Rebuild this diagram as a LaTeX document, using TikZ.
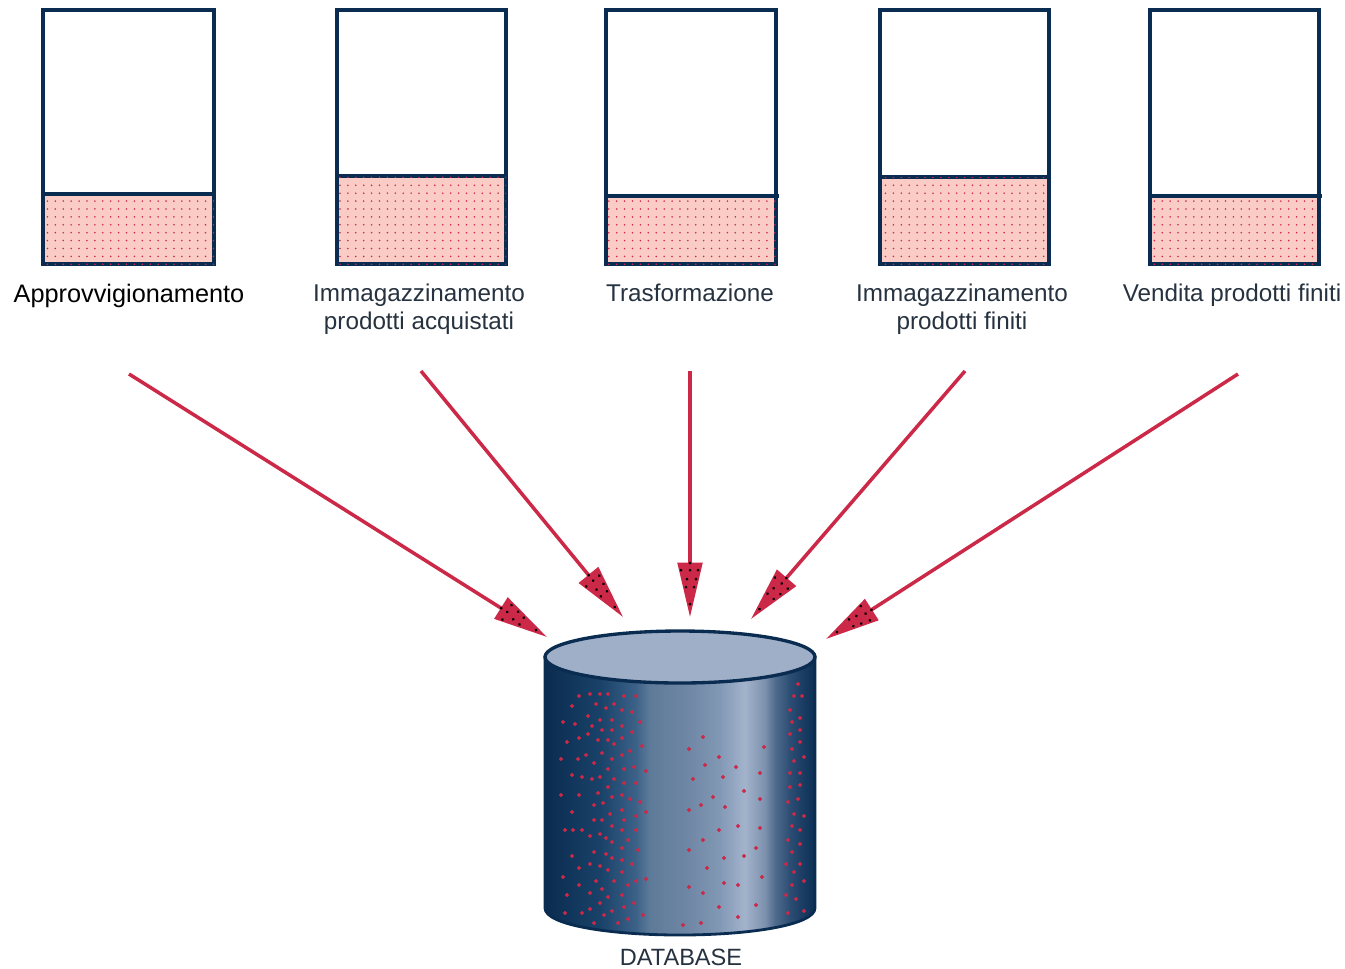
\documentclass[tikz,border=0pt]{standalone}
\usepackage{fontspec}
\setmainfont{Liberation Sans}
\usetikzlibrary{arrows.meta,patterns.meta}
\definecolor{binblue}{HTML}{0A2C50}
\definecolor{binpink}{HTML}{FBCBC5}
\definecolor{flowred}{HTML}{CC2848}
\definecolor{dbtop}{HTML}{9FAFC8}
\definecolor{labelink}{HTML}{26323F}
\pgfdeclarehorizontalshading{dbbody}{100bp}{
  rgb(0bp)=(0.04,0.17,0.31);
  rgb(25bp)=(0.04,0.17,0.31);
  rgb(35.2bp)=(0.10,0.26,0.41);
  rgb(41.7bp)=(0.23,0.38,0.53);
  rgb(44.4bp)=(0.37,0.48,0.60);
  rgb(51.9bp)=(0.44,0.53,0.65);
  rgb(57.4bp)=(0.51,0.60,0.71);
  rgb(62bp)=(0.64,0.70,0.80);
  rgb(65.7bp)=(0.49,0.57,0.68);
  rgb(67.6bp)=(0.31,0.42,0.55);
  rgb(70.4bp)=(0.17,0.30,0.45);
  rgb(75bp)=(0.04,0.18,0.33);
  rgb(100bp)=(0.04,0.18,0.33)}
\tikzset{
  binbox/.style={draw=binblue,line width=2pt,fill=white},
  binstock/.style={draw=binblue,line width=2pt,fill=binpink,
    postaction={pattern={Dots[distance=4.5pt,radius=0.5pt]},pattern color=flowred}},
  binlabel/.style={inner sep=0pt,text=labelink,align=center,
    font=\fontsize{13.8}{15.9}\selectfont},
  flow/.style={draw=flowred,line width=2pt,
    -{Triangle[length=31pt,width=14pt,fill=flowred]}},
  headdots/.pic={
    \fill[black] (-13,0) circle (1.5) (-30,-4) circle (1.5) (-30,4) circle (1.5)
      (-38,-6) circle (1.5) (-38,3) circle (1.5) (-47,-8) circle (1.5)
      (-47,0) circle (1.5) (-47,9) circle (1.5) (-54,0) circle (1.5);
  }
}
\begin{document}
\begin{tikzpicture}[x=0.02cm,y=-0.02cm]
\useasboundingbox (0,0) rectangle (1345,968);
\draw[binbox] (43,10) rectangle (214,194);
\draw[binstock] (43,194) rectangle (214,264);
\draw[binbox] (337,10) rectangle (506,176);
\draw[binstock] (337,176) rectangle (506,264);
\draw[binbox] (606,10) rectangle (776,196);
\draw[binstock] (606,196) rectangle (776,264);
\draw[binblue,line width=2pt] (776,196) -- (779,196);
\draw[binbox] (880,10) rectangle (1049,177);
\draw[binstock] (880,177) rectangle (1049,264);
\draw[binbox] (1150,10) rectangle (1319,196);
\draw[binstock] (1150,196) rectangle (1319,264);
\draw[binblue,line width=2pt] (1319,196) -- (1322,196);
\node[inner sep=0pt,text=black,font=\fontsize{14.4}{16}\selectfont] (appr) at (129,296) {Approvvigionamento};
\node[binlabel] (acqu) at (419,309) {Immagazzinamento\\prodotti acquistati};
\node[binlabel] (tras) at (690,293) {Trasformazione};
\node[binlabel] (fini) at (962,309) {Immagazzinamento\\prodotti finiti};
\node[binlabel] (vend) at (1232,295) {Vendita prodotti finiti};
\coordinate (apprtail) at (129,374);
\coordinate (acqutail) at (421,371);
\coordinate (trastail) at (690,371);
\coordinate (finitail) at (965,371);
\coordinate (vendtail) at (1238,374);
\coordinate (apprtip) at (547,637);
\coordinate (acqutip) at (623,617);
\coordinate (trastip) at (690,617);
\coordinate (finitip) at (751,619);
\coordinate (vendtip) at (826,639);
\draw[flow] (apprtail) -- (apprtip);
\draw[flow] (acqutail) -- (acqutip);
\draw[flow] (trastail) -- (trastip);
\draw[flow] (finitail) -- (finitip);
\draw[flow] (vendtail) -- (vendtip);
\pic[rotate=-32.2] at (apprtip) {headdots};
\pic[rotate=-50.6] at (acqutip) {headdots};
\pic[rotate=-90] at (trastip) {headdots};
\pic[rotate=-130.8] at (finitip) {headdots};
\pic[rotate=-147.3] at (vendtip) {headdots};
\draw[draw=binblue,line width=1.6pt,shading=dbbody] (545,657) -- (545,908) .. controls (545,925) and (610,935) .. (680,935) .. controls (750,935) and (815,925) .. (815,908) -- (815,657) -- cycle;
\draw[draw=binblue,line width=1.9pt,fill=dbtop] (680,657) ellipse (135 and 26);
\draw[flowred] plot[only marks,mark=*,mark size=0.9pt,mark options={fill=flowred,draw=none}] coordinates {
(579,696) (590,694) (600,694) (608,694) (624,696) (636,696) (572,706) (596,704) (614,704) (606,708)
(622,710) (632,712) (588,716) (600,720) (612,720) (563,722) (575,724) (592,726) (622,726) (640,722)
(602,730) (612,730) (632,732) (588,734) (579,738) (598,740) (608,740) (622,738) (567,742) (614,744)
(642,746) (630,751) (602,753) (586,755) (622,755) (561,759) (578,759) (612,759) (594,763) (608,769)
(624,769) (634,767) (646,771) (572,775) (582,777) (600,777) (592,779) (614,779) (624,783) (636,783)
(608,787) (598,793) (561,795) (579,795) (612,797) (622,795) (630,799) (640,802) (603,803) (594,805)
(572,812) (622,810) (646,812) (610,814) (594,820) (602,820) (624,820) (636,816) (612,826)
(703,737) (689,749) (764,747) (719,757) (705,765) (736,767) (760,773) (693,779) (723,777) (744,791)
(713,797) (760,799) (701,805) (725,807) (689,810) (738,826) (760,828)
(798,684) (794,696) (802,696) (790,710) (800,718) (792,722) (800,730) (790,734) (800,742) (792,749)
(804,757) (794,761) (800,773) (790,773) (800,785) (790,787) (798,799) (788,802) (794,814) (804,816)
(792,826) (800,830)
(565,830) (573,830) (582,830) (590,836) (600,834) (606,838) (622,830) (636,830) (628,840) (612,842)
(594,852) (606,854) (622,848) (638,850) (572,856) (612,858) (622,860) (590,864) (632,864) (600,866)
(579,868) (608,870) (622,872) (563,877) (596,881) (614,881) (628,885) (636,881) (646,879) (579,885)
(602,889) (590,893) (622,895) (608,897) (567,895) (600,903) (634,903) (590,909) (624,907) (612,911)
(565,913) (582,913) (604,915) (643,915) (628,919) (594,923) (618,923)
(719,830) (703,840) (689,850) (756,848) (744,856) (724,858) (707,868) (762,877) (724,883) (738,885)
(689,887) (703,893) (719,907) (756,905) (738,917) (701,923) (683,925)
(788,840) (800,844) (792,852) (800,864) (786,864) (794,872) (804,881) (792,885) (786,895) (796,899)
(804,911) (788,913)};
\node[inner sep=0pt,anchor=base,text=labelink,font=\fontsize{13.4}{15}\selectfont] (dbase) at (681,965) {DATABASE};
\end{tikzpicture}
\end{document}
